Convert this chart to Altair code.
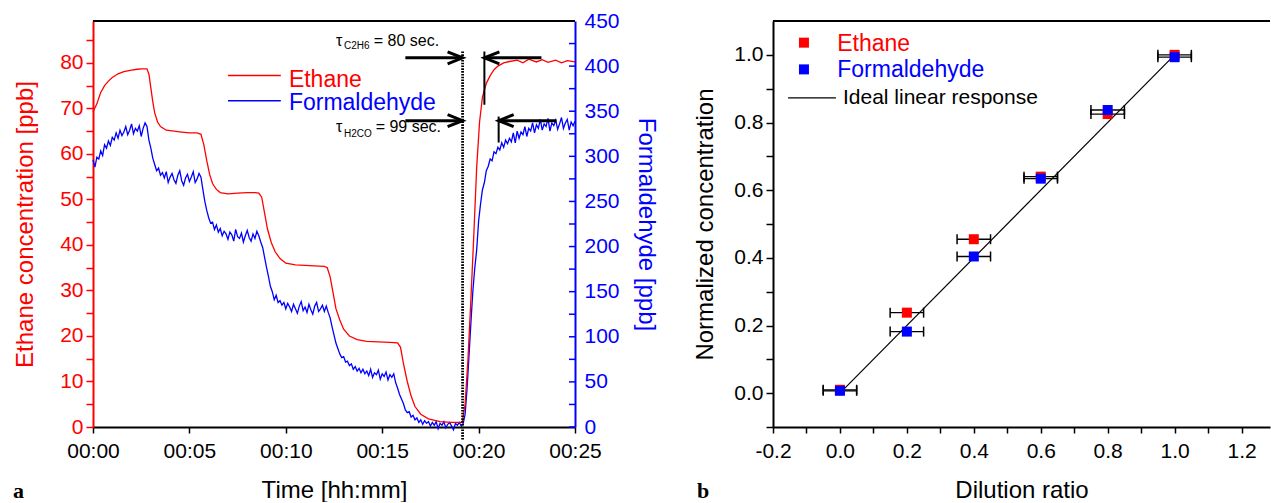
import altair as alt
import pandas as pd

FONT = "Liberation Sans"
RED = "#ff0000"
BLUE = "#0000ff"

# ---------------- panel a : time series ----------------
ethane_time = [0, 0.2, 0.4, 0.6, 0.8, 1.0, 1.3, 1.6, 2.0, 2.3, 2.5, 2.8, 2.9, 3.0, 3.1, 3.2, 3.35, 3.5,
               3.8, 4.2, 4.6, 5.0, 5.4, 5.6, 5.75, 5.9, 6.05, 6.2, 6.4, 6.6, 7.0, 7.5, 8.0, 8.4, 8.6,
               8.75, 8.9, 9.05, 9.25, 9.45, 9.7, 10.0, 10.5, 11.0, 11.5, 12.0, 12.15, 12.3, 12.45, 12.6,
               12.8, 13.0, 13.3, 13.7, 14.2, 14.8, 15.4, 15.8, 15.95, 16.1, 16.3, 16.5, 16.7, 17.0, 17.4,
               18.0, 18.6, 19.15, 19.3, 19.45, 19.6, 19.75, 19.9, 20.05, 20.2, 20.4, 20.6, 20.8, 21.0,
               21.3, 21.6, 22.0, 22.3, 22.6, 23.0, 23.3, 23.6, 24.0, 24.3, 24.6, 25.0]
ethane_ppb = [69.2, 71.0, 73.5, 75.0, 76.0, 76.8, 77.6, 78.1, 78.4, 78.6, 78.7, 78.7, 77.5, 74.5, 71.5,
              69.0, 67.0, 66.0, 65.2, 65.0, 64.8, 64.6, 64.6, 64.3, 62.0, 58.5, 55.5, 53.5, 52.2, 51.5,
              51.2, 51.4, 51.5, 51.5, 51.4, 50.5, 47.0, 43.5, 40.5, 38.5, 37.0, 36.0, 35.6, 35.5, 35.4,
              35.3, 35.0, 33.0, 29.5, 26.0, 23.5, 21.5, 20.0, 19.2, 18.8, 18.7, 18.6, 18.5, 17.5, 14.0,
              10.0, 6.8, 4.5, 2.8, 1.8, 1.2, 1.0, 1.0, 5.0, 15.0, 28.0, 42.0, 57.0, 67.0, 72.5, 75.5,
              77.2, 78.5, 79.3, 80.0, 80.3, 80.6, 80.0, 80.8, 80.2, 80.7, 80.1, 80.6, 80.0, 80.5, 80.2]

hcho_time = [round(i / 10, 1) for i in range(251)]
hcho_ppb = [
    296, 288, 299, 297, 306, 301, 313, 309, 317, 312,
    321, 318, 326, 320, 329, 323, 327, 333, 324, 329,
    336, 325, 331, 328, 334, 322, 331, 337, 333, 318,
    309, 298, 291, 284, 287, 279, 282, 276, 283, 271,
    277, 281, 274, 270, 279, 284, 273, 268, 276, 280,
    272, 277, 283, 271, 275, 281, 277, 263, 250, 240,
    232, 226, 227, 219, 224, 216, 220, 212, 217, 214,
    208, 216, 213, 206, 219, 211, 209, 215, 205, 212,
    218, 210, 206, 214, 209, 217, 212, 205, 199, 188,
    177, 167, 156, 150, 141, 146, 138, 140, 135, 138,
    131, 137, 133, 128, 136, 131, 126, 134, 139, 129,
    133, 127, 136, 130, 125, 134, 138, 128, 131, 135,
    128, 134, 127, 121, 111, 102, 93, 87, 81, 77,
    78, 72, 73, 68, 70, 64, 67, 62, 65, 60,
    64, 59, 62, 57, 64, 55, 60, 58, 63, 53,
    59, 56, 61, 52, 58, 55, 59, 49, 43, 36,
    31, 26, 19, 16, 17, 11, 13, 8, 10, 5,
    8, 3, 7, 4, 6, 1, 5, 2, 6, -2,
    4, 2, 6, -1, 3, 5, 1, -3, 4, 2,
    5, 1, 4, 14, 42, 78, 115, 150, 176, 196,
    228, 247, 263, 271, 284, 289, 297, 295, 305, 303,
    310, 307, 315, 310, 318, 314, 320, 316, 326, 315,
    328, 320, 327, 324, 333, 322, 331, 328, 337, 326,
    335, 331, 341, 329, 336, 333, 342, 328, 337, 334,
    340, 330, 336, 343, 331, 337, 341, 329, 338, 334,
    339]

time_ticks = [0, 5, 10, 15, 20, 25]
ethane_ticks = [0, 5, 10, 15, 20, 25, 30, 35, 40, 45, 50, 55, 60, 65, 70, 75, 80, 85]
hcho_ticks = [0, 25, 50, 75, 100, 125, 150, 175, 200, 225, 250, 275, 300, 325, 350, 375, 400, 425, 450]

# annotations (time in minutes, ethane ppb scale)
marker_time = [19.17]
marker_top = [82.5]
marker_bottom = [-3.0]
shaft_t1 = [16.2, 20.3, 16.2, 21.04]
shaft_t2 = [19.0, 23.26, 19.0, 24.04]
shaft_v = [81.1, 81.1, 67.3, 67.3]
bar_t = [20.3, 21.04]
bar_v1 = [82.5, 68.2]
bar_v2 = [70.8, 62.5]
head_right_t = [19.17, 19.17]
head_right_v = [81.1, 67.3]
head_left_t = [20.3, 21.04]
head_left_v = [81.1, 67.3]
tau_text = ["τ", "= 80 sec.", "τ", "= 99 sec."]
tau_t = [12.6, 14.56, 12.6, 14.66]
tau_v = [83.8, 83.8, 64.8, 64.8]
sub_text = ["C2H6", "H2CO"]
sub_t = [13.02, 13.02]
sub_v = [83.0, 63.7]

legend_a_names = ["Ethane", "Formaldehyde"]
legend_a_colors = [RED, BLUE]
legend_a_line_t1 = [7.0, 7.0]
legend_a_line_t2 = [9.74, 9.74]
legend_a_line_v = [77.2, 71.7]
legend_a_text_t = [10.16, 10.16]
legend_a_text_v = [74.8, 69.7]

# ---------------- panel b : linearity ----------------
dilution = [0.0, 0.2, 0.4, 0.6, 0.8, 1.0]
ethane_norm = [0.010, 0.238, 0.455, 0.640, 0.825, 1.000]
hcho_norm = [0.007, 0.182, 0.404, 0.634, 0.837, 0.993]
dilution_err = [0.05, 0.05, 0.05, 0.05, 0.05, 0.05]
ideal_x = [0.0, 1.0]
ideal_y = [0.0, 1.0]
ratio_ticks = [-0.2, -0.1, 0.0, 0.1, 0.2, 0.3, 0.4, 0.5, 0.6, 0.7, 0.8, 0.9, 1.0, 1.1, 1.2]
norm_ticks = [-0.1, 0.0, 0.1, 0.2, 0.3, 0.4, 0.5, 0.6, 0.7, 0.8, 0.9, 1.0]

legend_b_names = ["Ethane", "Formaldehyde"]
legend_b_colors = [RED, BLUE]
legend_b_sq_x = [-0.1075, -0.1075]
legend_b_sq_y = [1.036, 0.957]
legend_b_text_x = [-0.008, -0.008]
legend_b_text_y = [1.010, 0.935]
ideal_legend_x1 = [-0.155]
ideal_legend_x2 = [-0.012]
ideal_legend_y = [0.873]
ideal_legend_text_x = [0.009]
ideal_legend_text_y = [0.855]

# ---------------- sizes ----------------
W1, H = 482, 406
W2 = 497

# ================= panel a =================
xs_a = alt.Scale(domain=[0, 25], nice=False, zero=False)
ys_e = alt.Scale(domain=[0, 89.2], nice=False, zero=False)
ys_h = alt.Scale(domain=[0, 450], nice=False, zero=False)

x_axis_a = alt.Axis(values=time_ticks,
                    labelExpr="'00:' + (datum.value < 10 ? '0' : '') + datum.value",
                    title="Time [hh:mm]", grid=False, domainColor="black", domainWidth=2,
                    tickColor="black", tickWidth=1.5, tickSize=6,
                    labelFont=FONT, labelFontSize=21, labelColor="black", labelPadding=7,
                    labelFlush=False, labelOverlap=False,
                    titleFont=FONT, titleFontSize=24, titleFontWeight="normal",
                    titleColor="black", titlePadding=17)
y_axis_e = alt.Axis(values=ethane_ticks,
                    labelExpr="datum.value % 10 === 0 ? datum.label : ''",
                    title="Ethane concentration [ppb]", grid=False,
                    domainColor=RED, domainWidth=2, tickColor=RED, tickWidth=1.5,
                    tickSize=7,
                    labelFont=FONT, labelFontSize=21, labelColor=RED, labelPadding=3,
                    labelFlush=False, labelOverlap=False,
                    titleFont=FONT, titleFontSize=24, titleFontWeight="normal",
                    titleColor=RED, titlePadding=22)
y_axis_h = alt.Axis(orient="right", values=hcho_ticks,
                    labelExpr="datum.value % 50 === 0 ? datum.label : ''",
                    title="Formaldehyde [ppb]", grid=False,
                    domainColor=BLUE, domainWidth=2, ticks=False,
                    labelFont=FONT, labelFontSize=21, labelColor=BLUE, labelPadding=9,
                    labelFlush=False, labelOverlap=False,
                    titleFont=FONT, titleFontSize=24, titleFontWeight="normal",
                    titleColor=BLUE, titlePadding=14)

eth_df = pd.DataFrame({"t": ethane_time, "v": ethane_ppb})
hcho_df = pd.DataFrame({"t": hcho_time, "v": hcho_ppb})


def xa(field):
    return alt.X(f"{field}:Q", scale=xs_a, axis=x_axis_a, title="Time [hh:mm]")


def ye(field):
    return alt.Y(f"{field}:Q", scale=ys_e, axis=y_axis_e, title="Ethane concentration [ppb]")


def yh(field):
    return alt.Y(f"{field}:Q", scale=ys_h, axis=y_axis_h, title="Formaldehyde [ppb]")


eth_line = alt.Chart(eth_df).mark_line(color=RED, strokeWidth=1.3).encode(x=xa("t"), y=ye("v"))

one = pd.DataFrame({"k": [0]})
top_border_a = alt.Chart(one).mark_rule(color="black", strokeWidth=2).encode(
    x=alt.value(0), x2=alt.value(W1), y=alt.value(0))

marker_df = pd.DataFrame({"t": marker_time, "v1": marker_top, "v2": marker_bottom})
marker = alt.Chart(marker_df).mark_rule(color="black", strokeWidth=2.8, strokeDash=[1.6, 1.2]).encode(
    x=xa("t"), y=ye("v1"), y2="v2:Q")

shaft_df = pd.DataFrame({"t1": shaft_t1, "t2": shaft_t2, "v": shaft_v})
shafts = alt.Chart(shaft_df).mark_rule(color="black", strokeWidth=3).encode(
    x=xa("t1"), x2="t2:Q", y=ye("v"))

bar_df = pd.DataFrame({"t": bar_t, "v1": bar_v1, "v2": bar_v2})
bars = alt.Chart(bar_df).mark_rule(color="black", strokeWidth=2).encode(
    x=xa("t"), y=ye("v1"), y2="v2:Q")

hr_df = pd.DataFrame({"t": head_right_t, "v": head_right_v})
heads_r = alt.Chart(hr_df).mark_point(shape="M-2.5,-1L0,0L-2.5,1", size=144, filled=False,
                                      color="black", strokeWidth=3, opacity=1,
                                      strokeJoin="miter").encode(x=xa("t"), y=ye("v"))
hl_df = pd.DataFrame({"t": head_left_t, "v": head_left_v})
heads_l = alt.Chart(hl_df).mark_point(shape="M2.5,-1L0,0L2.5,1", size=144, filled=False,
                                      color="black", strokeWidth=3, opacity=1,
                                      strokeJoin="miter").encode(x=xa("t"), y=ye("v"))

tau_df = pd.DataFrame({"s": tau_text, "t": tau_t, "v": tau_v})
tau = alt.Chart(tau_df).mark_text(font=FONT, fontSize=16, align="left", baseline="alphabetic",
                                  color="black").encode(x=xa("t"), y=ye("v"), text="s:N")
sub_df = pd.DataFrame({"s": sub_text, "t": sub_t, "v": sub_v})
subs = alt.Chart(sub_df).mark_text(font=FONT, fontSize=10, align="left", baseline="alphabetic",
                                   color="black").encode(x=xa("t"), y=ye("v"), text="s:N")

leg_a_df = pd.DataFrame({"name": legend_a_names, "c": legend_a_colors,
                         "t1": legend_a_line_t1, "t2": legend_a_line_t2, "lv": legend_a_line_v,
                         "tt": legend_a_text_t, "tv": legend_a_text_v})
leg_a_lines = alt.Chart(leg_a_df).mark_rule(strokeWidth=1.5).encode(
    x=xa("t1"), x2="t2:Q", y=ye("lv"), color=alt.Color("c:N", scale=None))
leg_a_text = alt.Chart(leg_a_df).mark_text(font=FONT, fontSize=23, align="left",
                                           baseline="alphabetic").encode(
    x=xa("tt"), y=ye("tv"), text="name:N", color=alt.Color("c:N", scale=None))

label_a = alt.Chart(pd.DataFrame({"l": ["a"]})).mark_text(
    font="Liberation Serif", fontSize=22, fontWeight="bold", align="left",
    baseline="alphabetic", color="black").encode(text="l:N", x=alt.value(-80), y=alt.value(477))

eth_group = alt.layer(eth_line, top_border_a, leg_a_lines, leg_a_text, label_a,
                      marker, shafts, bars, heads_r, heads_l, tau, subs)

hcho_line = alt.Chart(hcho_df).mark_line(color=BLUE, strokeWidth=1.3).encode(x=xa("t"), y=yh("v"))
hcho_tick_df = pd.DataFrame({"v": hcho_ticks})
hcho_ticks_marks = alt.Chart(hcho_tick_df).mark_rule(color=BLUE, strokeWidth=1.5).encode(
    x=alt.value(W1 - 6), x2=alt.value(W1), y=yh("v"))
hcho_group = alt.layer(hcho_line, hcho_ticks_marks)

panel_a = alt.layer(hcho_group, eth_group).resolve_scale(y="independent").properties(
    width=W1, height=H)

# ================= panel b =================
xs_b = alt.Scale(domain=[-0.2, 1.285], nice=False, zero=False)
ys_b = alt.Scale(domain=[-0.1, 1.1], nice=False, zero=False)

major_b = "abs(datum.value*5 - round(datum.value*5)) < 0.001"
lab_b = ("(" + major_b + ") ? (datum.value < -0.001 ? '-' + format(-datum.value, '.1f') : "
         "format(abs(datum.value), '.1f')) : ''")

x_axis_b = alt.Axis(values=ratio_ticks, labelExpr=lab_b, title="Dilution ratio", grid=False,
                    domainColor="black", domainWidth=2, tickColor="black", tickWidth=1.5,
                    tickSize=6,
                    labelFont=FONT, labelFontSize=21, labelColor="black", labelPadding=7,
                    labelFlush=False, labelOverlap=False,
                    titleFont=FONT, titleFontSize=24, titleFontWeight="normal",
                    titleColor="black", titlePadding=17)
y_axis_b = alt.Axis(values=norm_ticks, labelExpr=lab_b, title="Normalized concentration",
                    grid=False, domainColor="black", domainWidth=2, tickColor="black",
                    tickWidth=1.5, tickSize=7,
                    labelFont=FONT, labelFontSize=21, labelColor="black", labelPadding=3,
                    labelFlush=False, labelOverlap=False,
                    titleFont=FONT, titleFontSize=24, titleFontWeight="normal",
                    titleColor="black", titlePadding=16)


def xb(field):
    return alt.X(f"{field}:Q", scale=xs_b, axis=x_axis_b, title="Dilution ratio")


def yb(field):
    return alt.Y(f"{field}:Q", scale=ys_b, axis=y_axis_b, title="Normalized concentration")


pts = pd.DataFrame({
    "x": dilution + dilution,
    "y": ethane_norm + hcho_norm,
    "err": dilution_err + dilution_err,
    "series": ["Ethane"] * len(dilution) + ["Formaldehyde"] * len(dilution),
    "c": [RED] * len(dilution) + [BLUE] * len(dilution),
})
pts["lo"] = pts["x"] - pts["err"]
pts["hi"] = pts["x"] + pts["err"]
caps = pd.concat([pts.assign(cx=pts["lo"]), pts.assign(cx=pts["hi"])])

ideal_df = pd.DataFrame({"x": ideal_x, "y": ideal_y})
ideal = alt.Chart(ideal_df).mark_line(color="black", strokeWidth=1.2).encode(x=xb("x"), y=yb("y"))

top_border_b = alt.Chart(one).mark_rule(color="black", strokeWidth=2).encode(
    x=alt.value(0), x2=alt.value(W2), y=alt.value(0))

err_lines = alt.Chart(pts).mark_rule(color="black", strokeWidth=1.3).encode(
    x=xb("lo"), x2="hi:Q", y=yb("y"))
err_caps = alt.Chart(caps).mark_point(shape="M0,-1L0,1", size=100, filled=False, color="black",
                                      strokeWidth=1.5, opacity=1).encode(x=xb("cx"), y=yb("y"))
squares = alt.Chart(pts).mark_point(shape="square", size=100, filled=True, opacity=1).encode(
    x=xb("x"), y=yb("y"), color=alt.Color("c:N", scale=None))

leg_b_df = pd.DataFrame({"name": legend_b_names, "c": legend_b_colors,
                         "sx": legend_b_sq_x, "sy": legend_b_sq_y,
                         "tx": legend_b_text_x, "ty": legend_b_text_y})
leg_b_sq = alt.Chart(leg_b_df).mark_point(shape="square", size=100, filled=True, opacity=1).encode(
    x=xb("sx"), y=yb("sy"), color=alt.Color("c:N", scale=None))
leg_b_text = alt.Chart(leg_b_df).mark_text(font=FONT, fontSize=23, align="left",
                                           baseline="alphabetic").encode(
    x=xb("tx"), y=yb("ty"), text="name:N", color=alt.Color("c:N", scale=None))
ideal_leg_df = pd.DataFrame({"x1": ideal_legend_x1, "x2": ideal_legend_x2, "y": ideal_legend_y,
                             "tx": ideal_legend_text_x, "ty": ideal_legend_text_y,
                             "s": ["Ideal linear response"]})
ideal_leg_line = alt.Chart(ideal_leg_df).mark_rule(color="black", strokeWidth=1.2).encode(
    x=xb("x1"), x2="x2:Q", y=yb("y"))
ideal_leg_text = alt.Chart(ideal_leg_df).mark_text(font=FONT, fontSize=21, align="left",
                                                   baseline="alphabetic", color="black").encode(
    x=xb("tx"), y=yb("ty"), text="s:N")

label_b = alt.Chart(pd.DataFrame({"l": ["b"]})).mark_text(
    font="Liberation Serif", fontSize=22, fontWeight="bold", align="left",
    baseline="alphabetic", color="black").encode(text="l:N", x=alt.value(-76), y=alt.value(477))

panel_b = alt.layer(ideal, top_border_b, err_lines, err_caps, squares, leg_b_sq, leg_b_text,
                    ideal_leg_line, ideal_leg_text, label_b).properties(width=W2, height=H)

chart = alt.hconcat(panel_a, panel_b, spacing=198, bounds="flush").properties(
    padding={"left": 13, "top": 10, "right": 0, "bottom": 0}
).configure(font=FONT, background="white").configure_view(stroke=None)

chart.save("out.html", embed_options={"renderer": "svg", "actions": False})
